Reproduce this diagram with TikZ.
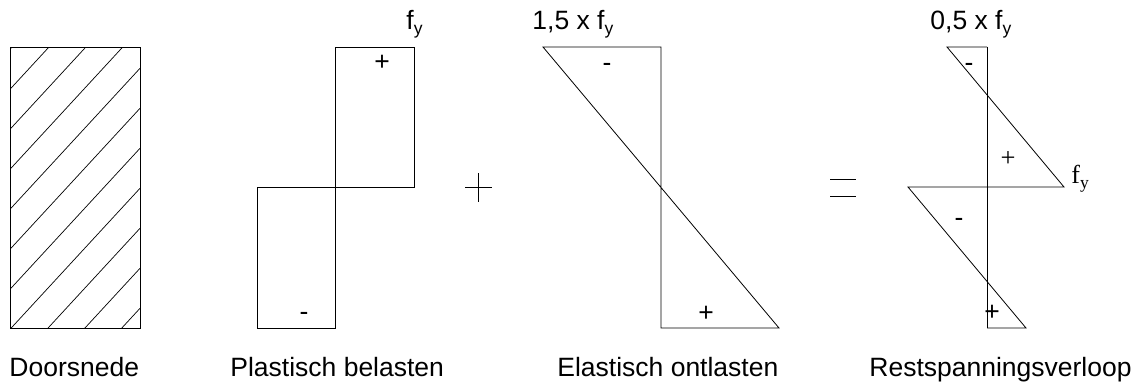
\documentclass[tikz,border=0pt]{standalone}
\usepackage{fontspec}
\setmainfont{Liberation Sans}
\newfontfamily\serifrm{Liberation Serif}
\usepackage{tikz}
\newcommand{\fy}{f\raisebox{-0.2em}{\fontsize{17.5}{18}\selectfont y}}
\tikzset{
    lbl/.style={anchor=base west,inner sep=0pt,font=\fontsize{26.5}{30}\selectfont},
    sgn/.style={anchor=base,inner sep=0pt,font=\fontsize{26.5}{30}\selectfont}
}

\begin{document}
\begin{tikzpicture}[x=1pt,y=-1pt,line width=0.8pt]
            \useasboundingbox (0,0) rectangle (1136,383);
            % doorsnede
            \draw (10,47) rectangle (140,328);
            \begin{scope}
                \clip (10,47) rectangle (140,328);
                \foreach \k in {0,...,10} \draw[line width=0.7pt] (10,49.3+40*\k) -- (140,49.3+40*\k-141);
            \end{scope}
            \node[lbl] (doorsnede) at (9,376) {Doorsnede};

            % plastisch
            \draw (335,328) -- (335,47) -- (414,47) -- (414,187) -- (257,187) -- (257,328) -- cycle;
            \node[sgn] (plusA) at (382,70) {+}; \node[sgn] (minA) at (304,320) {-};
            \node[lbl] (fyA) at (406,29) {\fy};
            \node[lbl] (plastisch) at (230,376) {Plastisch belasten};

            \draw (465,187) -- (492,187); \draw (478.5,173) -- (478.5,202);

            % elastisch
            \draw (543,47) -- (661,47) -- (661,328) -- (779,328) -- cycle;
            \node[sgn] (minB) at (607,71) {-}; \node[sgn] (plusB) at (706,321) {+};
            \node[lbl] (fyB) at (532,29) {1,5 x \fy};
            \node[lbl] (elastisch) at (557,376) {Elastisch ontlasten};

            \draw (830,179) -- (856,179); \draw (830,196) -- (856,196);

            % rest
            \draw (987,47) -- (987,328);
            \draw (987,47) -- (947,47) -- (1064,187) -- (908,187) -- (1026,328) -- (987,328);
            \node[sgn] (minC) at (969,71) {-}; \node[sgn] (minD) at (959,226) {-}; \node[sgn] (plusC) at (992,320) {+};
            \node[sgn,font=\serifrm\fontsize{26.5}{30}\selectfont] (plusD) at (1008,166) {+};
            \node[lbl,font=\serifrm\fontsize{26}{30}\selectfont] (fyC) at (1071,183) {\fy};
            \node[lbl] (fyD) at (930,29) {0,5 x \fy};
            \node[lbl] (rest) at (869,376) {Restspanningsverloop};
\end{tikzpicture}
\end{document}
